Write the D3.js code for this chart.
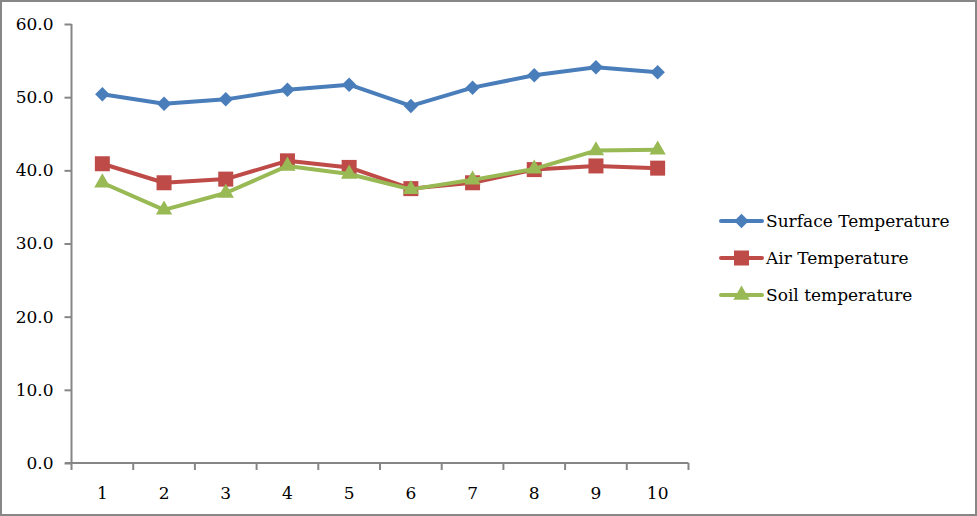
<!DOCTYPE html>
<html><head><meta charset="utf-8">
<script src="https://cdn.jsdelivr.net/npm/d3@7"></script>
<style>body{margin:0;background:#fff;} svg{display:block;}</style>
</head><body>
<script>
const categories = ["1","2","3","4","5","6","7","8","9","10"];
const surface = [50.4, 49.1, 49.7, 51.0, 51.7, 48.8, 51.3, 53.0, 54.1, 53.4];
const air = [40.9, 38.3, 38.8, 41.3, 40.4, 37.5, 38.3, 40.1, 40.6, 40.3];
const soil = [38.3, 34.6, 36.9, 40.6, 39.5, 37.4, 38.7, 40.2, 42.7, 42.8];
const seriesNames = ["Surface Temperature", "Air Temperature", "Soil temperature"];
const yTicks = [0, 10, 20, 30, 40, 50, 60];

const W = 977, H = 516;
const svg = d3.select("body").append("svg").attr("width", W).attr("height", H);
svg.append("rect").attr("x", 1).attr("y", 1).attr("width", W - 2).attr("height", H - 2)
  .attr("fill", "#fff").attr("stroke", "#878787").attr("stroke-width", 2);

const x = d3.scaleBand().domain(categories).range([71.5, 688.5]);
const y = d3.scaleLinear().domain([0, 60]).range([463, 24]);
const font = "'DejaVu Serif', serif";
const axisColor = "#868686";

// y axis
const ya = svg.append("g").attr("transform", "translate(71.5,0)")
  .call(d3.axisLeft(y).tickValues(yTicks).tickFormat(d3.format(".1f")).tickSize(7).tickPadding(11));
ya.select(".domain").attr("stroke", axisColor).attr("stroke-width", 2).attr("d", `M0,${y(60)}V${y(0)}`);
ya.selectAll(".tick line").attr("stroke", axisColor).attr("stroke-width", 2);
ya.selectAll("text").attr("font-family", font).attr("font-size", 17).attr("fill", "#000");

// x axis
const xTickPos = categories.map(c => x(c)).concat([x.range()[1]]);
const xa = svg.append("g").attr("transform", `translate(0,${y(0)})`);
xa.append("line").attr("x1", 65).attr("x2", 688.5).attr("y1", 0).attr("y2", 0)
  .attr("stroke", axisColor).attr("stroke-width", 2);
xa.selectAll("line.t").data(xTickPos).join("line").attr("class", "t")
  .attr("x1", d => d).attr("x2", d => d).attr("y1", 0).attr("y2", 7)
  .attr("stroke", axisColor).attr("stroke-width", 2);
xa.selectAll("text").data(categories).join("text")
  .attr("x", d => x(d) + x.bandwidth() / 2).attr("y", 36)
  .attr("text-anchor", "middle").attr("font-family", font).attr("font-size", 17).attr("fill", "#000")
  .text(d => d);

const series = [
  {name: seriesNames[0], values: surface, color: "#4A7EBB", sym: d3.symbolSquare, size: 105, rot: 45},
  {name: seriesNames[1], values: air, color: "#BE4B48", sym: d3.symbolSquare, size: 225, rot: 0},
  {name: seriesNames[2], values: soil, color: "#98B954", sym: d3.symbolTriangle, size: 115, rot: 0}
];
const cx = i => x(categories[i]) + x.bandwidth() / 2;
const line = d3.line().x((d, i) => cx(i)).y(d => y(d));

series.forEach(s => {
  const g = svg.append("g");
  g.append("path").attr("d", line(s.values)).attr("fill", "none")
    .attr("stroke", s.color).attr("stroke-width", 4).attr("stroke-linejoin", "round");
  g.selectAll("path.m").data(s.values).join("path").attr("class", "m")
    .attr("transform", (d, i) => `translate(${cx(i)},${y(d)}) rotate(${s.rot})`)
    .attr("d", d3.symbol().type(s.sym).size(s.size)).attr("fill", s.color);
});

// legend
const lg = svg.append("g");
series.forEach((s, i) => {
  const ly = 221 + i * 37;
  lg.append("line").attr("x1", 721).attr("x2", 762).attr("y1", ly).attr("y2", ly)
    .attr("stroke", s.color).attr("stroke-width", 4).attr("stroke-linecap", "round");
  lg.append("path").attr("transform", `translate(741.5,${ly}) rotate(${s.rot})`)
    .attr("d", d3.symbol().type(s.sym).size(s.size)).attr("fill", s.color);
  lg.append("text").attr("x", 766).attr("y", ly).attr("dy", "0.35em")
    .attr("font-family", font).attr("font-size", 17).attr("fill", "#000").text(s.name);
});
</script>
</body></html>
